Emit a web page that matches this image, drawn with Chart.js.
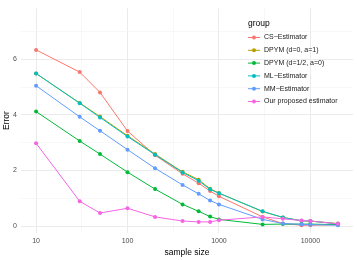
<!DOCTYPE html>
<html>
<head>
<meta charset="utf-8">
<script src="https://cdn.jsdelivr.net/npm/chart.js@4"></script>
<style>
  html, body { margin: 0; padding: 0; background: #fff; }
  #wrap { width: 357px; height: 260px; }
</style>
</head>
<body>
<div id="wrap"><canvas id="errorChart" width="357" height="260"></canvas></div>
<script>
// ======================
// Datos
// ======================
const sampleSizes = [10, 30, 50, 100, 200, 400, 600, 800, 1000, 3000, 5000, 8000, 10000, 20000];

const groupNames = ["CS\u2212Estimator", "DPYM (d=0, a=1)", "DPYM (d=1/2, a=0)", "ML\u2212Estimator", "MM\u2212Estimator", "Our proposed estimator"];
const groupColors = ["#F8766D", "#B79F00", "#00BA38", "#00BFC4", "#619CFF", "#F564E3"];

const csEstimator = [6.34, 5.54, 4.81, 3.42, 2.55, 1.88, 1.54, 1.26, 1.07, 0.33, 0.09, 0.03, 0.03, 0.05];
const dpymA1 = [5.49, 4.43, 3.94, 3.25, 2.59, 1.95, 1.67, 1.34, 1.19, 0.52, 0.31, 0.19, 0.18, 0.09];
const dpymHalf = [4.12, 3.06, 2.59, 1.94, 1.33, 0.78, 0.53, 0.34, 0.24, 0.06, 0.07, 0.07, 0.07, 0.05];
const mlEstimator = [5.49, 4.42, 3.91, 3.22, 2.57, 1.93, 1.63, 1.32, 1.18, 0.53, 0.31, 0.19, 0.18, 0.08];
const mmEstimator = [5.05, 3.93, 3.43, 2.75, 2.08, 1.48, 1.16, 0.92, 0.78, 0.24, 0.09, 0.06, 0.05, 0.03];
const ourEstimator = [2.98, 0.89, 0.47, 0.64, 0.33, 0.18, 0.15, 0.15, 0.21, 0.33, 0.26, 0.20, 0.18, 0.08];

const seriesValues = [csEstimator, dpymA1, dpymHalf, mlEstimator, mmEstimator, ourEstimator];

const xTicks = [10, 100, 1000, 10000];
const xMinor = [31.62, 316.2, 3162];
const yTicks = [0, 2, 4, 6];
const yMinor = [1, 3, 5, 7];

const FONT = "'Liberation Sans', Arial, sans-serif";

// ========== Leyenda dentro del panel (estilo ggplot) ==========
const insideLegend = {
    id: "insideLegend",
    afterDraw(chart) {
        const ctx = chart.ctx;
        const x0 = 248, y0 = 24, step = 12.8;
        ctx.save();
        ctx.fillStyle = "#000";
        ctx.font = "8.5px " + FONT;
        ctx.textBaseline = "middle";
        ctx.fillText("group", x0, y0);
        ctx.font = "7px " + FONT;
        chart.data.datasets.forEach((ds, i) => {
            const y = y0 + 13.5 + i * step;
            ctx.strokeStyle = ds.borderColor;
            ctx.lineWidth = 1;
            ctx.beginPath();
            ctx.moveTo(x0, y);
            ctx.lineTo(x0 + 12, y);
            ctx.stroke();
            ctx.fillStyle = ds.borderColor;
            ctx.beginPath();
            ctx.arc(x0 + 6, y, 2, 0, Math.PI * 2);
            ctx.fill();
            ctx.fillStyle = "#1a1a1a";
            ctx.fillText(ds.label, x0 + 16, y);
        });
        ctx.restore();
    }
};

const datasets = groupNames.map((name, i) => ({
    label: name,
    data: sampleSizes.map((n, j) => ({ x: n, y: seriesValues[i][j] })),
    borderColor: groupColors[i],
    backgroundColor: groupColors[i],
    borderWidth: 1,
    pointRadius: 2,
    pointBorderWidth: 0,
    tension: 0,
    order: groupNames.length - i
}));

new Chart(document.getElementById("errorChart"), {
    type: "line",
    data: { datasets: datasets },
    plugins: [insideLegend],
    options: {
        responsive: false,
        animation: false,
        layout: { padding: { top: 4, right: 4, left: 0, bottom: 0 } },
        plugins: { legend: { display: false }, tooltip: { enabled: false } },
        scales: {
            x: {
                type: "logarithmic",
                min: 6.84,
                max: 29240,
                border: { display: false },
                afterBuildTicks: s => {
                    s.ticks = [...xTicks, ...xMinor].sort((a, b) => a - b).map(v => ({ value: v }));
                },
                afterFit: s => { s.height = 27; },
                grid: {
                    color: c => xTicks.includes(c.tick.value) ? "#ebebeb" : "#f2f2f2",
                    lineWidth: c => xTicks.includes(c.tick.value) ? 1 : 0.6,
                    drawTicks: false
                },
                ticks: {
                    autoSkip: false,
                    maxRotation: 0,
                    padding: 4,
                    color: "#4d4d4d",
                    font: { family: FONT, size: 7 },
                    callback: v => xTicks.includes(v) ? String(v) : ""
                },
                title: {
                    display: true,
                    text: "sample size",
                    color: "#000",
                    font: { family: FONT, size: 8.5 },
                    padding: { top: 0, bottom: 2 }
                }
            },
            y: {
                type: "linear",
                min: -0.25,
                max: 7.84,
                border: { display: false },
                afterBuildTicks: s => {
                    s.ticks = [...yTicks, ...yMinor].sort((a, b) => a - b).map(v => ({ value: v }));
                },
                afterFit: s => { s.width = 21; },
                grid: {
                    color: c => yTicks.includes(c.tick.value) ? "#ebebeb" : "#f2f2f2",
                    lineWidth: c => yTicks.includes(c.tick.value) ? 1 : 0.6,
                    drawTicks: false
                },
                ticks: {
                    autoSkip: false,
                    padding: 4,
                    color: "#4d4d4d",
                    font: { family: FONT, size: 7 },
                    callback: v => yTicks.includes(v) ? String(v) : ""
                },
                title: {
                    display: true,
                    text: "Error",
                    color: "#000",
                    font: { family: FONT, size: 8.5 },
                    padding: { top: 2, bottom: 0 }
                }
            }
        }
    }
});
</script>
</body>
</html>
